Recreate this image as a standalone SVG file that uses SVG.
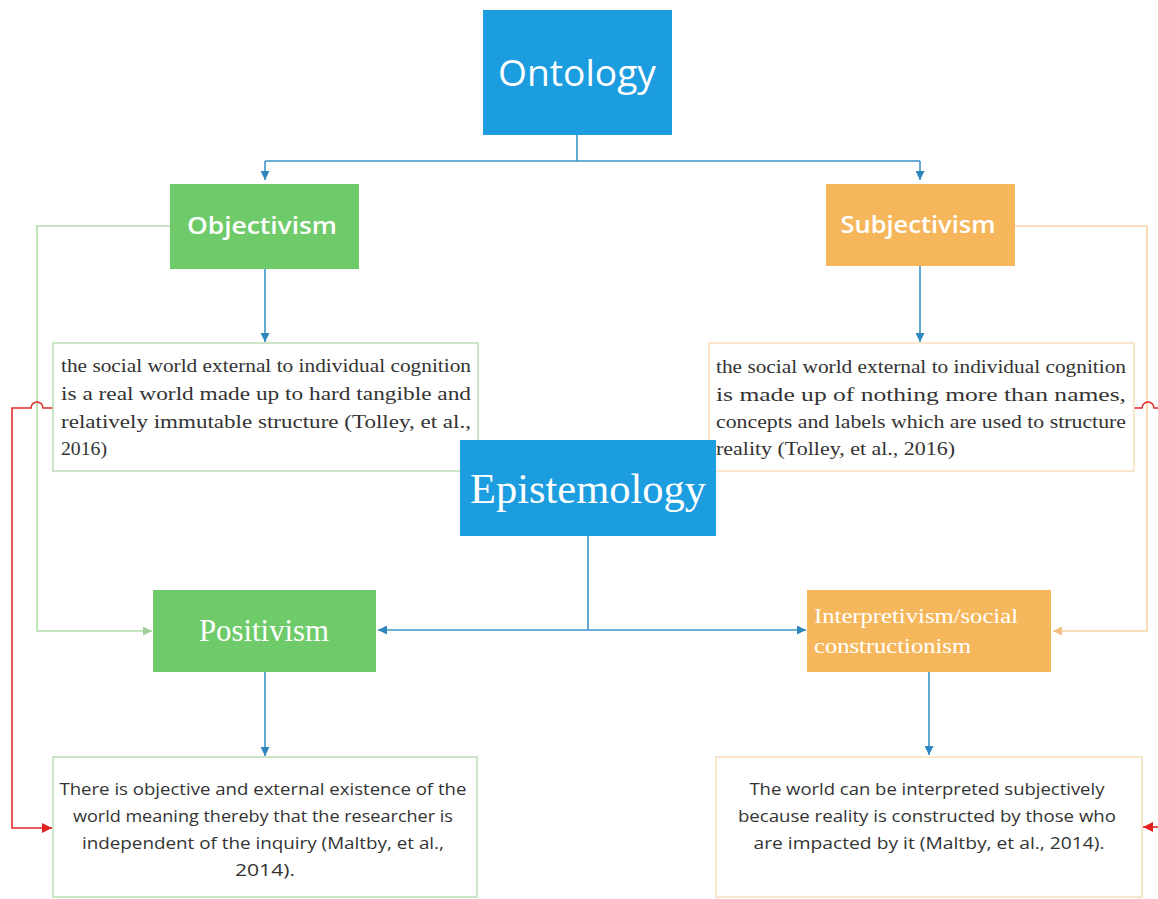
<svg xmlns="http://www.w3.org/2000/svg" width="1158" height="899" viewBox="0 0 1158 899">
<style>
.blue{fill:#1b9de0}
.green{fill:#6fcb6a}
.orange{fill:#f6b75c}
.lbl{fill:#ffffff}
.sans{font-family:"Open Sans","Noto Sans",sans-serif}
.serif{font-family:"Liberation Serif","Times New Roman",serif}
.body{fill:#333333}
.cb{fill:none;stroke:#3d94c9;stroke-width:1.6}
.cg{fill:none;stroke:#b2dcaa;stroke-width:1.6}
.co{fill:none;stroke:#f8d3a6;stroke-width:1.6}
.cr{fill:none;stroke:#e02a2a;stroke-width:1.6}
.boxg{fill:#ffffff;stroke:#b5dcb0;stroke-width:1.4}
.boxo{fill:#ffffff;stroke:#f8dcb8;stroke-width:1.4}
</style>
<defs>
<marker id="ab" viewBox="0 0 10 10" refX="10" refY="5" markerWidth="9" markerHeight="9" markerUnits="userSpaceOnUse" orient="auto"><path d="M0,0 L10,5 L0,10 z" fill="#2f86bf"/></marker>
<marker id="ag" viewBox="0 0 10 10" refX="10" refY="5" markerWidth="9" markerHeight="9" markerUnits="userSpaceOnUse" orient="auto"><path d="M0,0 L10,5 L0,10 z" fill="#9fcf98"/></marker>
<marker id="ao" viewBox="0 0 10 10" refX="10" refY="5" markerWidth="9" markerHeight="9" markerUnits="userSpaceOnUse" orient="auto"><path d="M0,0 L10,5 L0,10 z" fill="#f3bd84"/></marker>
<marker id="ar" viewBox="0 0 10 10" refX="10" refY="5" markerWidth="10" markerHeight="10" markerUnits="userSpaceOnUse" orient="auto"><path d="M0,0 L10,5 L0,10 z" fill="#e02020"/></marker>
</defs>
<rect width="1158" height="899" fill="#ffffff"/>

<g id="connectors">
<path class="cb" d="M577,135 V161 M265,161 H920"/>
<path class="cb" d="M265,161 V180" marker-end="url(#ab)"/>
<path class="cb" d="M920,161 V180" marker-end="url(#ab)"/>
<path class="cb" d="M265,269 V342" marker-end="url(#ab)"/>
<path class="cb" d="M920,266 V342" marker-end="url(#ab)"/>
<path class="cg" d="M170,226 H37 V631 H152" marker-end="url(#ag)"/>
<path class="co" d="M1015,226 H1147 V631 H1053" marker-end="url(#ao)"/>
<path class="cb" d="M588,536 V630"/>
<path class="cb" d="M588,630 H378" marker-end="url(#ab)"/>
<path class="cb" d="M588,630 H806" marker-end="url(#ab)"/>
<path class="cb" d="M265,672 V756" marker-end="url(#ab)"/>
<path class="cb" d="M929,672 V755" marker-end="url(#ab)"/>
<path class="cr" d="M53,408 H43 A6,6 0 0 0 31,408 H12 V828 H52" marker-end="url(#ar)"/>
<path class="cr" d="M1134,408 H1142 A6,6 0 0 1 1154,408 H1160"/>
<path class="cr" d="M1160,827 H1143" marker-end="url(#ar)"/>
</g>

<g id="ontology">
<rect class="blue" x="483" y="10" width="189" height="125"/>
<text class="sans lbl" x="577" y="86" font-size="36" text-anchor="middle" textLength="158" lengthAdjust="spacingAndGlyphs">Ontology</text>
</g>

<g id="objectivism">
<rect class="green" x="170" y="184" width="189" height="85"/>
<text class="sans lbl" x="262" y="234" font-size="24" text-anchor="middle" textLength="150" lengthAdjust="spacingAndGlyphs" font-weight="600">Objectivism</text>
</g>

<g id="subjectivism">
<rect class="orange" x="826" y="184" width="189" height="82"/>
<text class="sans lbl" x="918" y="233" font-size="24" text-anchor="middle" textLength="155" lengthAdjust="spacingAndGlyphs" font-weight="600">Subjectivism</text>
</g>

<g id="objectivism-text">
<rect class="boxg" x="53" y="343" width="425" height="128"/>
<text class="serif body" font-size="18">
<tspan x="61" y="372" textLength="410" lengthAdjust="spacingAndGlyphs">the social world external to individual cognition</tspan>
<tspan x="61" y="400" textLength="410" lengthAdjust="spacingAndGlyphs">is a real world made up to hard tangible and</tspan>
<tspan x="61" y="428" textLength="410" lengthAdjust="spacingAndGlyphs">relatively immutable structure (Tolley, et al.,</tspan>
<tspan x="61" y="455" textLength="46" lengthAdjust="spacingAndGlyphs">2016)</tspan>
</text>
</g>

<g id="subjectivism-text">
<rect class="boxo" x="709" y="343" width="425" height="128"/>
<text class="serif body" font-size="18">
<tspan x="716" y="373" textLength="410" lengthAdjust="spacingAndGlyphs">the social world external to individual cognition</tspan>
<tspan x="716" y="401" textLength="410" lengthAdjust="spacingAndGlyphs" font-size="19">is made up of nothing more than names,</tspan>
<tspan x="716" y="428" textLength="410" lengthAdjust="spacingAndGlyphs">concepts and labels which are used to structure</tspan>
<tspan x="716" y="455" textLength="239" lengthAdjust="spacingAndGlyphs">reality  (Tolley, et al., 2016)</tspan>
</text>
</g>

<g id="epistemology">
<rect class="blue" x="460" y="440" width="256" height="96"/>
<text class="serif lbl" x="588" y="503" font-size="42" text-anchor="middle" textLength="236" lengthAdjust="spacingAndGlyphs">Epistemology</text>
</g>

<g id="positivism">
<rect class="green" x="153" y="590" width="223" height="82"/>
<text class="serif lbl" x="264" y="641" font-size="32" text-anchor="middle" textLength="130" lengthAdjust="spacingAndGlyphs">Positivism</text>
</g>

<g id="interpretivism">
<rect class="orange" x="807" y="590" width="244" height="82"/>
<text class="serif lbl" font-size="20">
<tspan x="814" y="623" textLength="204" lengthAdjust="spacingAndGlyphs">Interpretivism/social</tspan>
<tspan x="814" y="653" textLength="157" lengthAdjust="spacingAndGlyphs">constructionism</tspan>
</text>
</g>

<g id="positivism-text">
<rect class="boxg" x="53" y="757" width="424" height="140"/>
<text class="sans body" font-size="16" text-anchor="middle">
<tspan x="265" y="795" textLength="407" lengthAdjust="spacingAndGlyphs">There is objective and external existence of the</tspan>
<tspan x="265" y="822" textLength="380" lengthAdjust="spacingAndGlyphs">world meaning thereby that the researcher is</tspan>
<tspan x="265" y="849" textLength="362" lengthAdjust="spacingAndGlyphs">independent of the inquiry (Maltby, et al.,</tspan>
<tspan x="265" y="876" textLength="60" lengthAdjust="spacingAndGlyphs">2014).</tspan>
</text>
</g>

<g id="interpretivism-text">
<rect class="boxo" x="716" y="757" width="426" height="140"/>
<text class="sans body" font-size="16" text-anchor="middle">
<tspan x="929" y="795" textLength="355" lengthAdjust="spacingAndGlyphs">The world can be interpreted subjectively</tspan>
<tspan x="929" y="822" textLength="378" lengthAdjust="spacingAndGlyphs">because reality is constructed by those who</tspan>
<tspan x="929" y="849" textLength="351" lengthAdjust="spacingAndGlyphs">are impacted by it (Maltby, et al., 2014).</tspan>
</text>
</g>
</svg>
